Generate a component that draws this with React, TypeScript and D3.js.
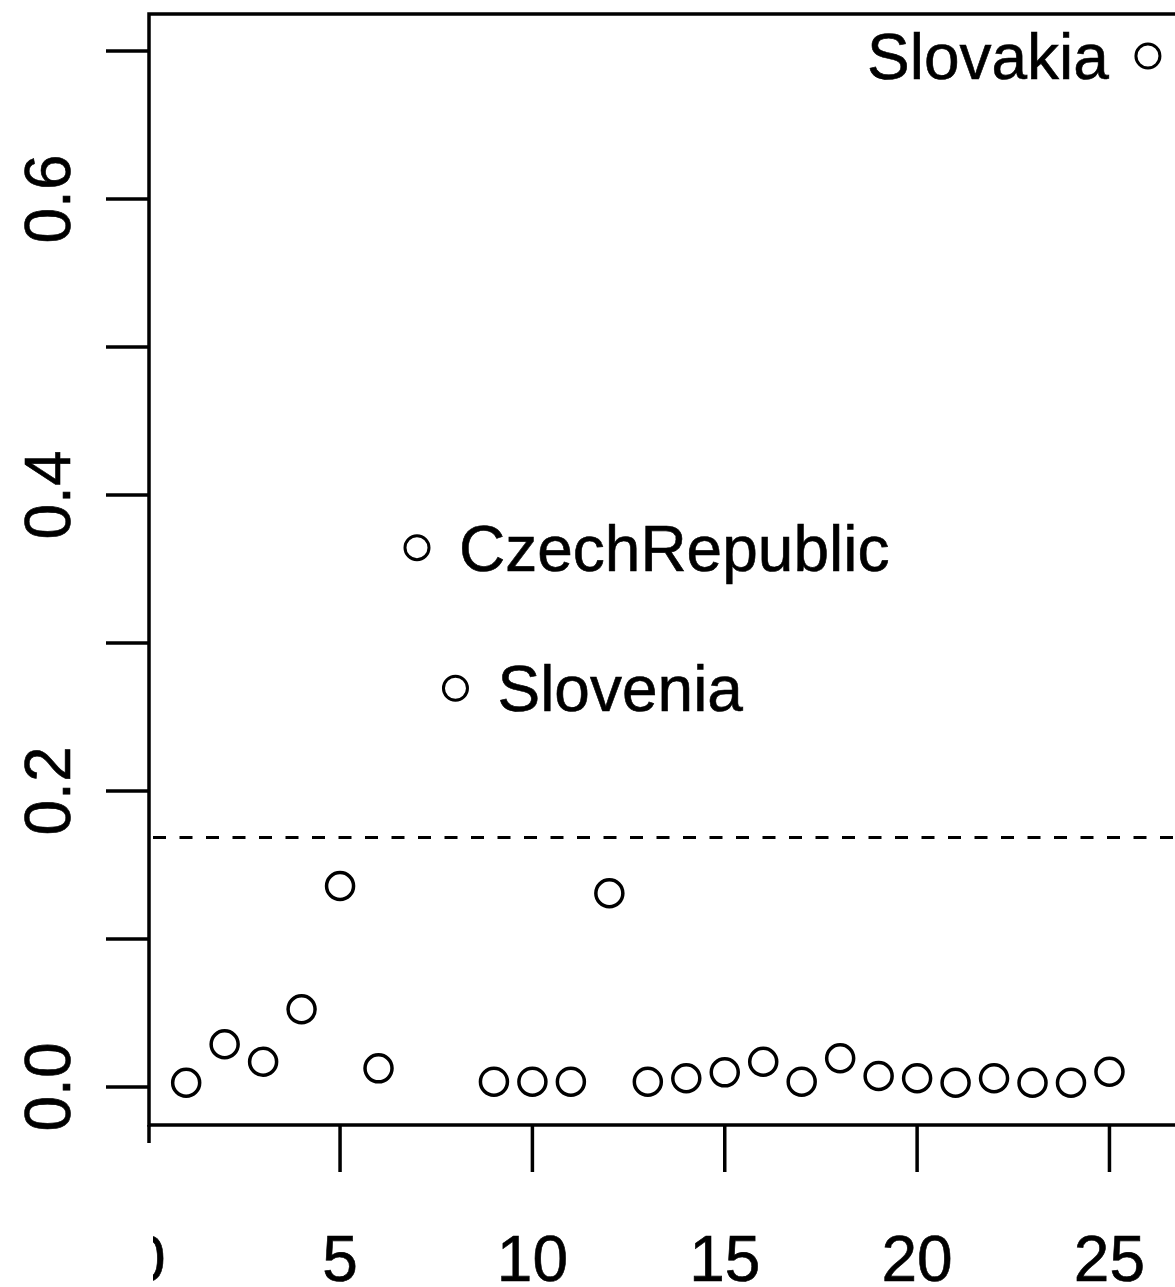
import React from "react";
import * as d3 from "d3";

const obsIndex = [1, 2, 3, 4, 5, 6, 7, 8, 9, 10, 11, 12, 13, 14, 15, 16, 17, 18, 19, 20, 21, 22, 23, 24, 25, 26];
const cooksD = [
  0.0029, 0.0289, 0.0171, 0.0525, 0.1358, 0.0126, 0.3644, 0.2694, 0.0036, 0.0036,
  0.0036, 0.1309, 0.0036, 0.0059, 0.0099, 0.0171, 0.0036, 0.0194, 0.0074, 0.0059,
  0.0029, 0.0059, 0.0029, 0.0029, 0.0103, 0.6966,
];
const labelIndex = [7, 8, 26];
const labelNames = ["CzechRepublic", "Slovenia", "Slovakia"];
const labelSide = ["right", "right", "left"];
const threshold = 0.1685;
const xTicks = [0, 5, 10, 15, 20, 25];
const yTicks = [0, 0.1, 0.2, 0.3, 0.4, 0.5, 0.6, 0.7];
const yLabelTicks = [0, 0.2, 0.4, 0.6];

const W = 1175;
const H = 1287;
const boxLeft = 149;
const boxTop = 14;
const boxBottom = 1125;
const boxRight = 1190;
const font = "'Liberation Sans', Arial, Helvetica, sans-serif";

export default function App() {
  const x = d3.scaleLinear().domain([0, 27]).range([147.7, 1186.4]);
  const y = d3.scaleLinear().domain([0, 0.7]).range([1087, 51]);
  const fmtY = d3.format(".1f");

  return (
    <svg
      width={W}
      height={H}
      viewBox={`0 0 ${W} ${H}`}
      style={{ position: "absolute", left: 0, top: 0, background: "#fff" }}
    >
      <defs>
        <clipPath id="zeroClip">
          <rect x={153} y={1150} width={60} height={137} />
        </clipPath>
      </defs>
      <rect x={0} y={0} width={W} height={H} fill="#fff" />
      {/* threshold line */}
      <line
        x1={boxLeft + 4}
        x2={boxRight}
        y1={y(threshold)}
        y2={y(threshold)}
        stroke="#000"
        strokeWidth={3}
        strokeDasharray="13,13.5"
      />
      {/* points */}
      {obsIndex.map((idx, i) => {
        const labeled = labelIndex.includes(idx);
        return (
          <circle
            key={idx}
            cx={x(idx)}
            cy={y(cooksD[i])}
            r={labeled ? 12 : 13.5}
            fill="none"
            stroke="#000"
            strokeWidth={labeled ? 3 : 3.5}
          />
        );
      })}
      {/* labels */}
      {labelIndex.map((idx, j) => {
        const i = obsIndex.indexOf(idx);
        const cx = x(idx);
        const cy = y(cooksD[i]);
        const right = labelSide[j] === "right";
        return (
          <text
            key={idx}
            x={right ? cx + 42 : cx - 39}
            y={cy + 23}
            textAnchor={right ? "start" : "end"}
            fontFamily={font}
            fontSize={64}
            fill="#000"
            stroke="#000"
            strokeWidth={0.6}
          >
            {labelNames[j]}
          </text>
        );
      })}
      {/* box */}
      <rect
        x={boxLeft}
        y={boxTop}
        width={boxRight - boxLeft}
        height={boxBottom - boxTop}
        fill="none"
        stroke="#000"
        strokeWidth={3.5}
      />
      {/* y axis ticks */}
      {yTicks.map((t) => (
        <line key={t} x1={106} x2={boxLeft} y1={y(t)} y2={y(t)} stroke="#000" strokeWidth={3.5} />
      ))}
      {yLabelTicks.map((t) => (
        <text
          key={t}
          transform={`translate(70,${y(t)}) rotate(-90)`}
          textAnchor="middle"
          fontFamily={font}
          fontSize={64}
          fill="#000"
          stroke="#000"
          strokeWidth={0.6}
        >
          {fmtY(t)}
        </text>
      ))}
      {/* x axis ticks */}
      {xTicks.map((t) => (
        <line
          key={t}
          x1={t === 0 ? boxLeft : x(t)}
          x2={t === 0 ? boxLeft : x(t)}
          y1={boxBottom}
          y2={t === 0 ? 1143 : 1172}
          stroke="#000"
          strokeWidth={3.5}
        />
      ))}
      {xTicks.map((t) => (
        <text
          key={t}
          x={x(t)}
          y={1281}
          textAnchor="middle"
          fontFamily={font}
          fontSize={64}
          fill="#000"
          stroke="#000"
          strokeWidth={0.6}
          clipPath={t === 0 ? "url(#zeroClip)" : undefined}
        >
          {String(t)}
        </text>
      ))}
    </svg>
  );
}
